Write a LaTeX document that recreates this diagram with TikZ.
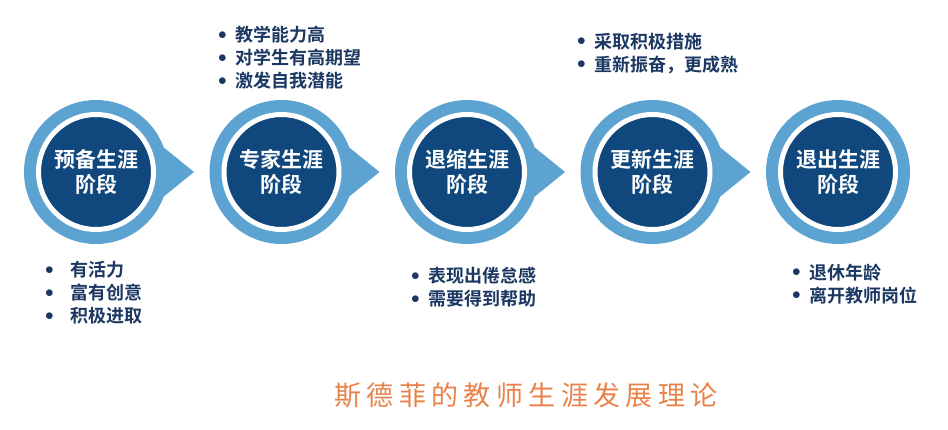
\documentclass[tikz,border=0pt]{standalone}
\usepackage{fontspec}
\setmainfont{Noto Sans CJK SC}[BoldFont={Noto Sans CJK SC Bold}]
\newfontfamily\titlefont[LetterSpace=20]{Noto Sans CJK SC}
\usetikzlibrary{positioning}
\definecolor{ringblue}{RGB}{93,163,209}
\definecolor{coreblue}{RGB}{16,72,125}
\definecolor{listblue}{RGB}{28,56,98}
\definecolor{titleorange}{RGB}{233,130,74}
\newcommand{\bul}[1][9pt]{\raisebox{2.5pt}{$\bullet$}\hspace{#1}}

\begin{document}
\begin{tikzpicture}[x=1pt,y=-1pt,
        ring/.style={circle,fill=ringblue,minimum size=144pt,inner sep=0pt,outer sep=0pt},
        core/.style={circle,fill=coreblue,draw=white,line width=5pt,minimum size=115pt,
                     inner sep=0pt,text=white,align=center,
                     font=\bfseries\fontsize{21}{25}\selectfont},
        items/.style={anchor=west,align=left,inner sep=0pt,text=listblue,
                      font=\bfseries\fontsize{18}{23}\selectfont}]
    \useasboundingbox (0,0) rectangle (948,429);
    % five stages
    \node[ring] (s1) at (96,172) {};
    \node[ring,right=41.5pt of s1] (s2) {};
    \node[ring,right=41.5pt of s2] (s3) {};
    \node[ring,right=41.5pt of s3] (s4) {};
    \node[ring,right=41.5pt of s4] (s5) {};
    \foreach \s in {s1,s2,s3,s4}
        \fill[ringblue] (\s.20) -- ([xshift=26pt]\s.east) -- (\s.-20) -- cycle;
    \node[core] (c1) at (s1) {预备生涯\\阶段};
    \node[core] (c2) at (s2) {专家生涯\\阶段};
    \node[core] (c3) at (s3) {退缩生涯\\阶段};
    \node[core] (c4) at (s4) {更新生涯\\阶段};
    \node[core] (c5) at (s5) {退出生涯\\阶段};
    % notes
    \node[items] (n1) at (45,293) {\bul[17pt]有活力\\\bul[17pt]富有创意\\\bul[17pt]积极进取};
    \node[items] (n2) at (218,58) {\bul 教学能力高\\\bul 对学生有高期望\\\bul 激发自我潜能};
    \node[items] (n3) at (411,287.5) {\bul 表现出倦怠感\\\bul 需要得到帮助};
    \node[items] (n4) at (577,53.5) {\bul 采取积极措施\\\bul 重新振奋，更成熟};
    \node[items] (n5) at (792,284) {\bul 退休年龄\\\bul 离开教师岗位};
    \node[text=titleorange,font=\titlefont\fontsize{27}{31}\selectfont] (title) at (526,395)
        {斯德菲的教师生涯发展理论};
\end{tikzpicture}
\end{document}
